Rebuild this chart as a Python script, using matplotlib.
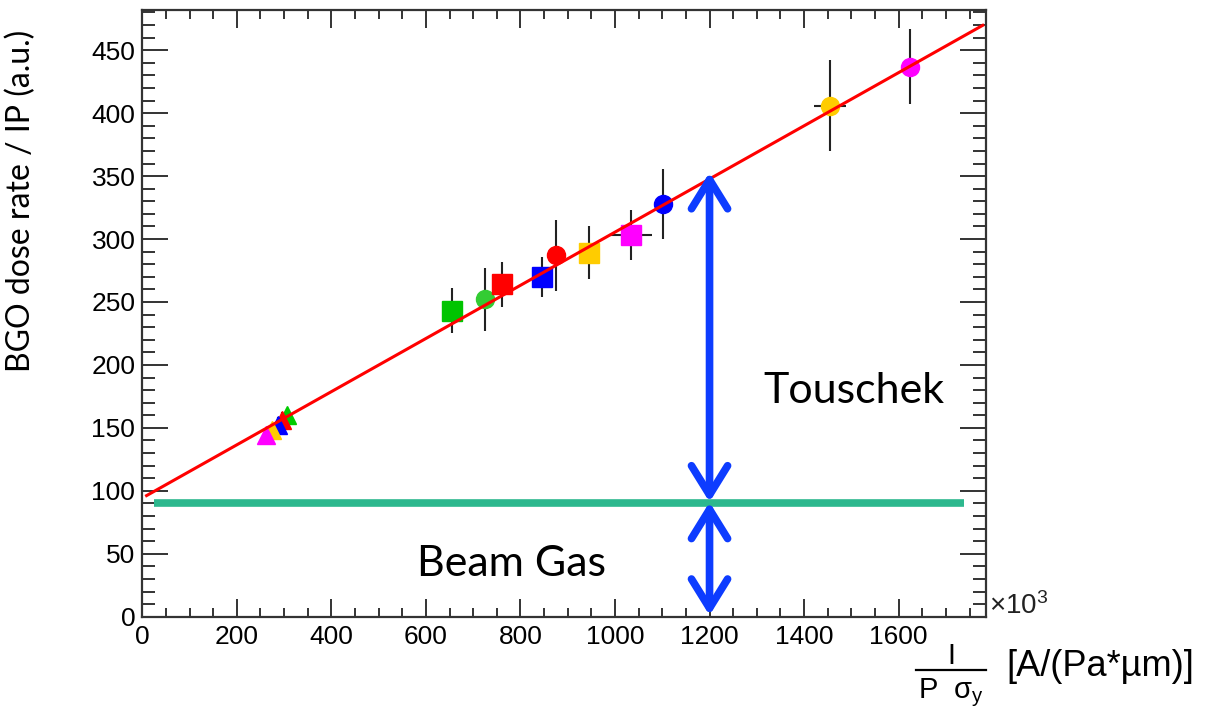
import matplotlib
matplotlib.use("Agg")
import matplotlib.pyplot as plt
from matplotlib.patches import FancyArrowPatch
from matplotlib.lines import Line2D

# measured points: I/(P*sigma_y) [x1e3] vs BGO dose rate / IP
pt_x = [262, 275, 288, 295, 307, 656, 726, 762, 845, 876, 944, 1033, 1101, 1455, 1624]
pt_y = [144, 148, 152, 156, 160, 243, 252, 264, 270, 287, 289, 303, 328, 406, 437]
pt_yerr = [6, 6, 7, 7, 6, 18, 25, 18, 16, 28, 21, 20, 28, 36, 30]
pt_xerr = [0, 0, 0, 0, 0, 0, 0, 0, 0, 0, 0, 45, 0, 33, 0]
pt_marker = ['^', '^', '^', '^', '^', 's', 'o', 's', 's', 'o', 's', 's', 'o', 'o', 'o']
pt_color = ['#ff00ff', '#ffcc00', '#0000ff', '#ff0000', '#00cc00',
            '#00c400', '#33cc33', '#ff0000', '#0000ff', '#ff0000',
            '#ffcc00', '#ff00ff', '#0000ff', '#ffcc00', '#ff00ff']
draw_order = [4, 3, 2, 1, 0, 5, 6, 7, 8, 9, 10, 11, 12, 13, 14]

# linear fit and beam-gas level
fit_x = [9, 1778]
fit_y = [96.2, 469.8]
gas_x = [25, 1738]
gas_y = [90, 90]

# Touschek / beam gas arrows
arrow_x = 1200
arrow_levels = [353, 91, 1]

x_ticks = [0, 200, 400, 600, 800, 1000, 1200, 1400, 1600]
y_ticks = [0, 50, 100, 150, 200, 250, 300, 350, 400, 450]

plt.rcParams['mathtext.fontset'] = 'custom'
plt.rcParams['mathtext.rm'] = 'Liberation Sans'
plt.rcParams['mathtext.it'] = 'Liberation Sans'

fig = plt.figure(figsize=(12.05, 7.16), dpi=100)
ax = fig.add_axes([0.1181, 0.1387, 0.7002, 0.8474])
ax.set_xlim(0, 1785)
ax.set_ylim(0, 482)

# error bars under the markers
for i in draw_order:
    ax.errorbar(pt_x[i], pt_y[i], yerr=pt_yerr[i],
                xerr=pt_xerr[i] if pt_xerr[i] else None,
                fmt='none', ecolor='#222222', elinewidth=1.5, capsize=0, zorder=2)
for i in draw_order:
    ms = 14 if pt_marker[i] == 's' else 13
    ax.plot(pt_x[i], pt_y[i], marker=pt_marker[i], ms=ms, color=pt_color[i],
            mec=pt_color[i], ls='none', zorder=3)

ax.plot(fit_x, fit_y, color='#ff0000', lw=2.2, zorder=4)
ax.plot(gas_x, gas_y, color='#2db88e', lw=5.5, solid_capstyle='butt', zorder=5)

for a, b in zip(arrow_levels[:-1], arrow_levels[1:]):
    arr = FancyArrowPatch((arrow_x, a), (arrow_x, b),
                          arrowstyle='<->,head_length=21,head_width=13',
                          mutation_scale=1, lw=5.5, color='#0d3cff',
                          shrinkA=0, shrinkB=0, capstyle='round',
                          joinstyle='round', zorder=6)
    ax.add_patch(arr)

ax.text(1314, 170, 'Touschek', fontsize=31, family='Lato', va='baseline', ha='left')
ax.text(781, 32, 'Beam Gas', fontsize=31, family='Lato', va='baseline', ha='center')

# ROOT-like frame
ax.set_xticks(x_ticks)
ax.set_yticks(y_ticks)
ax.set_xticks(range(0, 1786, 50), minor=True)
ax.set_yticks(range(0, 481, 10), minor=True)
for lab in ax.get_xticklabels() + ax.get_yticklabels():
    lab.set_family('Liberation Sans')
ax.tick_params(which='both', direction='in', top=True, right=True,
               width=1.4, color='#333333', labelsize=19)
ax.tick_params(axis='x', which='major', length=13, pad=6)
ax.tick_params(axis='x', which='minor', length=6.5)
ax.tick_params(axis='y', which='major', length=19, pad=5)
ax.tick_params(axis='y', which='minor', length=9.5)
for s in ax.spines.values():
    s.set_linewidth(1.6)
    s.set_color('#333333')

ax.set_ylabel('BGO dose rate / IP (a.u.)', fontsize=23, family='Lato')
ax.yaxis.set_label_coords(-0.126, 0.685)

fig.text(989 / 1205, 1 - 606 / 716, r'$\times10^{3}$', fontsize=20,
         ha='left', va='center', color='#222222')

# x-axis label drawn as a fraction
fig.text(951 / 1205, 1 - 656 / 716, 'I', fontsize=21, family='Liberation Sans',
         ha='center', va='center')
fig.add_artist(Line2D([916 / 1205, 986 / 1205], [1 - 670 / 716, 1 - 670 / 716],
                      color='black', lw=1.6))
fig.text(951 / 1205, 1 - 693 / 716, r'P  $\mathregular{\sigma_y}$', fontsize=21,
         family='Liberation Sans', ha='center', va='center')
fig.text(1006 / 1205, 1 - 666 / 716, '[A/(Pa*µm)]', fontsize=26,
         family='Liberation Sans', ha='left', va='center')

fig.savefig('out.png', dpi=100)
